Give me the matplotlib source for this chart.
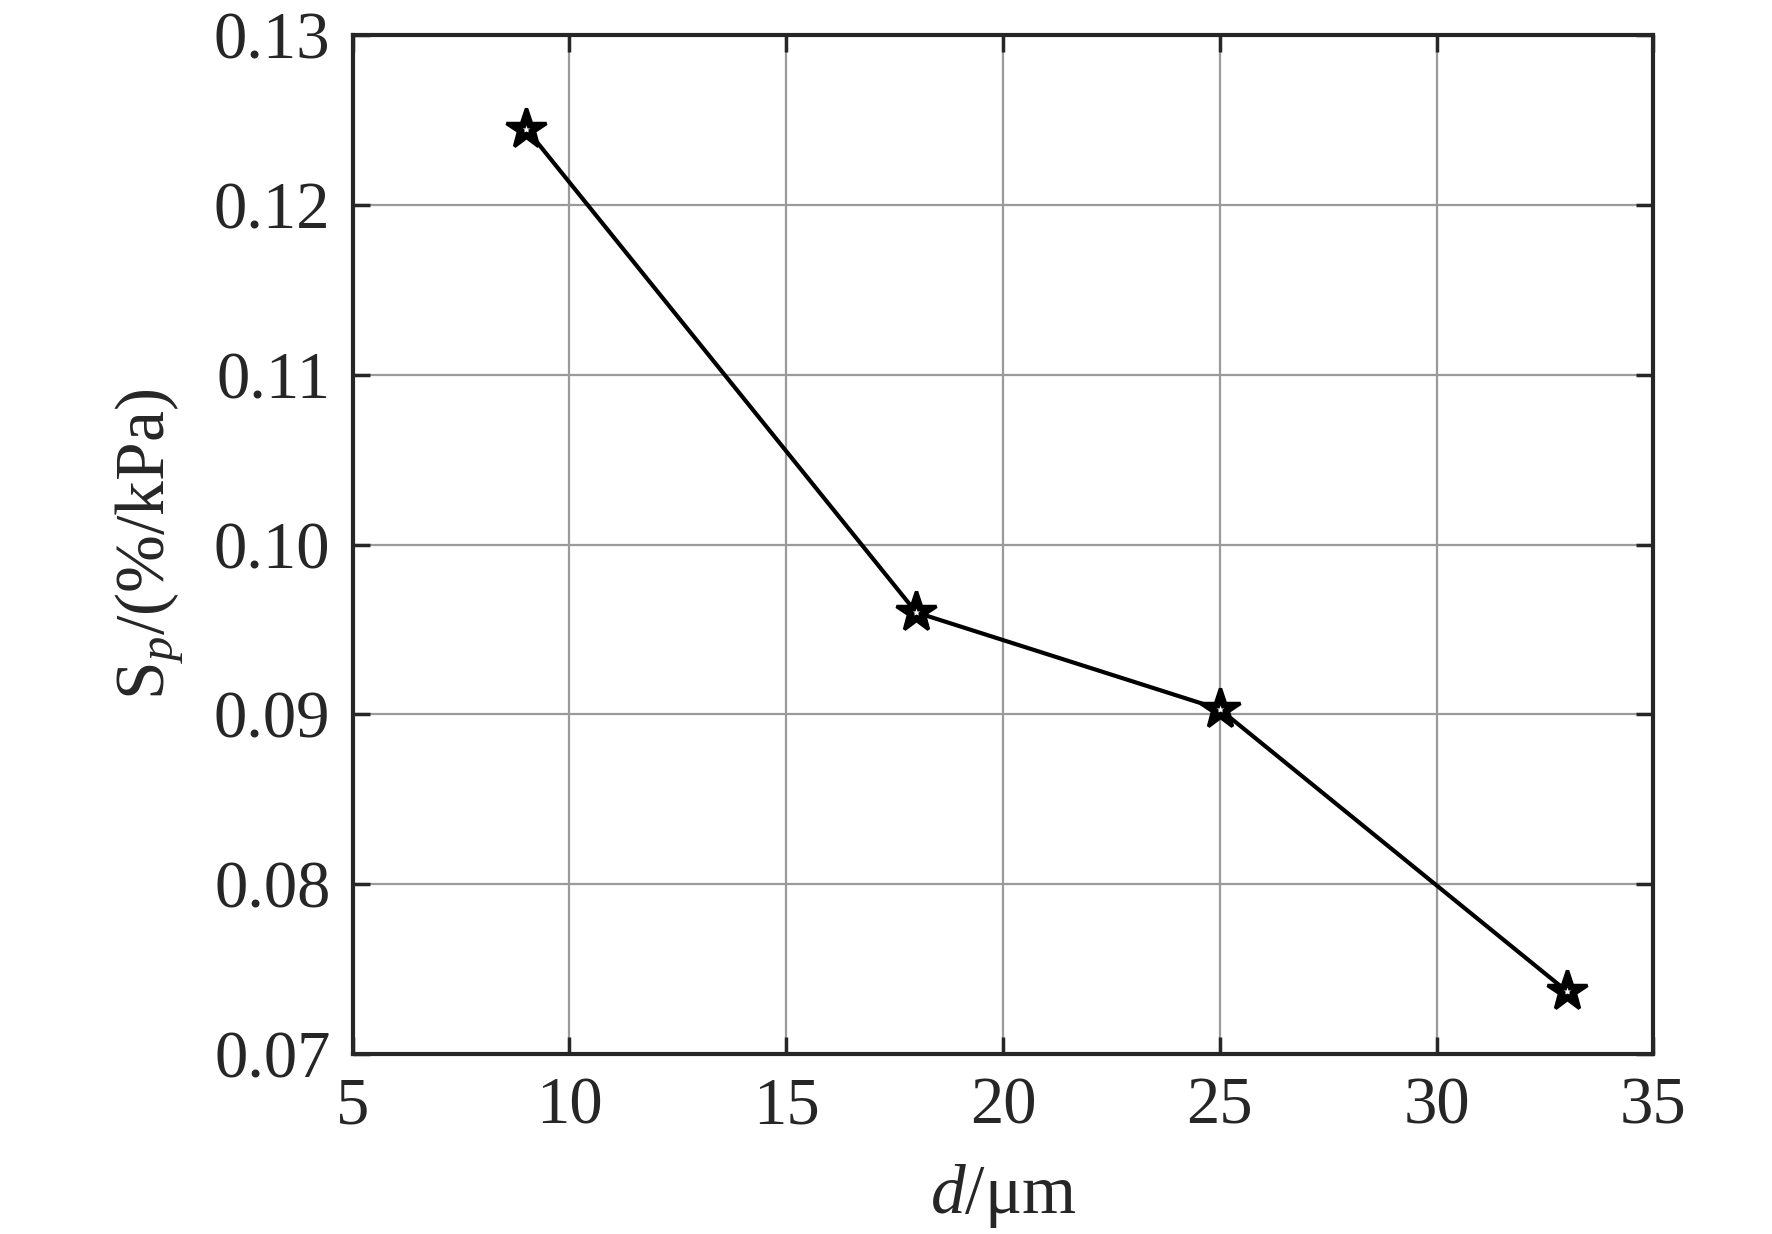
import matplotlib
matplotlib.use("Agg")
import matplotlib.pyplot as plt

plt.rcParams['font.family'] = ['Liberation Serif', 'DejaVu Serif']
plt.rcParams['mathtext.fontset'] = 'custom'
plt.rcParams['mathtext.rm'] = 'Liberation Serif'
plt.rcParams['mathtext.it'] = 'Liberation Serif:italic'

d = [9, 18, 25, 33]
sp = [0.1245, 0.0960, 0.0903, 0.0737]
xticks = [5, 10, 15, 20, 25, 30, 35]
yticks = [0.07, 0.08, 0.09, 0.10, 0.11, 0.12, 0.13]
ytick_labels = ['0.07', '0.08', '0.09', '0.10', '0.11', '0.12', '0.13']

dark = '#262626'

fig = plt.figure(figsize=(17.72, 12.34), dpi=100)
ax = fig.add_axes([0.199, 0.146, 0.734, 0.8255])

# MATLAB style thick pentagram: nearly filled black
ax.plot(d, sp, color='black', lw=3, marker='*', ms=30,
        mfc='black', mec='black', mew=2.5, zorder=3)
ax.plot(d, sp, ls='none', marker='*', ms=6, mfc='white', mec='none', zorder=4)

ax.set_xlim(5, 35)
ax.set_ylim(0.07, 0.13)
ax.set_xticks(xticks)
ax.set_yticks(yticks)
ax.set_yticklabels(ytick_labels)
ax.grid(True, color='#9a9a9a', lw=1.6)
ax.set_axisbelow(True)

for s in ax.spines.values():
    s.set_linewidth(3)
    s.set_color(dark)
ax.tick_params(direction='in', length=12, width=2.5, colors=dark,
               labelsize=48, top=True, right=True, pad=16)

ax.set_xlabel(r'$d$/μm', fontsize=50, color=dark, labelpad=18)
ax.set_ylabel(r'S$_{p}$/(%/kPa)', fontsize=50, color=dark, labelpad=20)

fig.savefig('out.png', dpi=100)
